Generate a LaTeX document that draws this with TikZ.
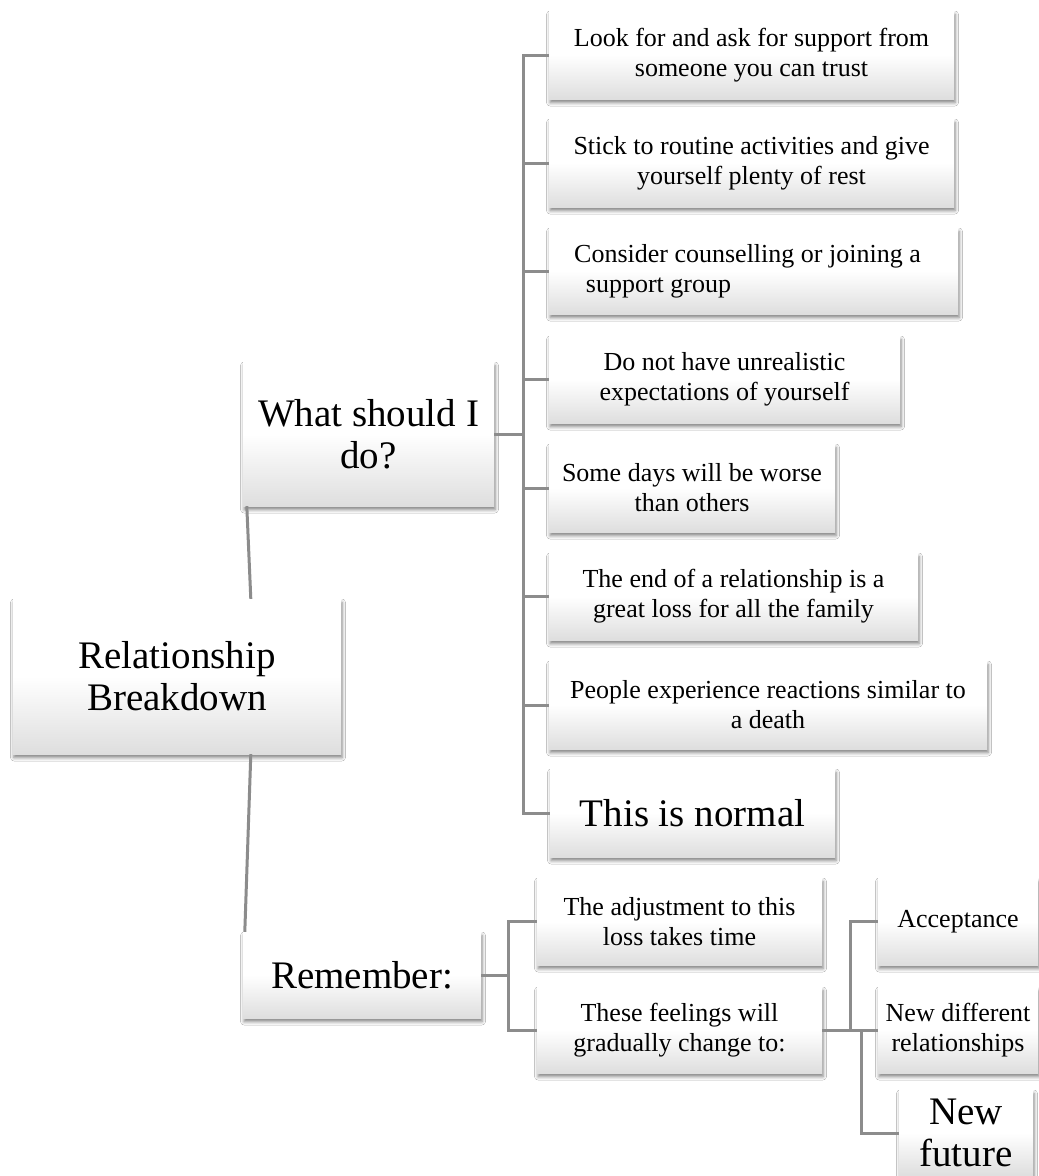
\documentclass[tikz,border=0pt]{standalone}
\usepackage{fontspec}
\setmainfont{Liberation Serif}
\usetikzlibrary{shadows.blur,calc}
\tikzset{
  box/.style={shape=rectangle, top color=white, bottom color=black!13, middle color=white,
    inner sep=0pt, align=center, text=black,
    blur shadow={shadow xshift=1pt, shadow yshift=-3.5pt, shadow blur radius=3.5pt, shadow opacity=50},
    font=\fontsize{26}{30}\selectfont},
  bigbox/.style={box, font=\fontsize{39}{42}\selectfont},
  conn/.style={draw=black!45, line width=3pt}
}
\begin{document}
\begin{tikzpicture}[x=1pt,y=-1pt]
\useasboundingbox (0,0) rectangle (1039,1176);
\clip (0,0) rectangle (1039,1176);
\fill[white] (0,0) rectangle (1039,1176);
% main nodes
\node[bigbox, minimum width=328, minimum height=155] (root) at (177,676.5) {Relationship\\Breakdown};
\node[bigbox, minimum width=251, minimum height=144] (what) at (368.5,434) {What should I\\do?};
\node[bigbox, minimum width=238, minimum height=86] (rem) at (362,975) {Remember:};
% leaves of "What should I do?"
\node[box, minimum width=405, minimum height=88] (l1) at (751.5,55) {Look for and ask for support from\\someone you can trust};
\node[box, minimum width=405, minimum height=88] (l2) at (751.5,163) {Stick to routine activities and give\\yourself plenty of rest};
\node[box, minimum width=409, minimum height=86] (l3) at (753.5,271) {\hspace*{-12pt}Consider counselling or joining a\\support group\hspace*{190pt}};
\node[box, minimum width=351, minimum height=87] (l4) at (724.5,379.5) {Do not have unrealistic\\expectations of yourself};
\node[box, minimum width=286, minimum height=88] (l5) at (692,488) {Some days will be worse\\than others};
\node[box, minimum width=369, minimum height=87] (l6) at (733.5,596.5) {The end of a relationship is a\\great loss for all the family};
\node[box, minimum width=438, minimum height=88] (l7) at (768,705) {People experience reactions similar to\\a death};
\node[bigbox, minimum width=285, minimum height=88] (l8) at (692.5,813) {This is normal};
% Remember branch
\node[box, minimum width=285, minimum height=87] (adj) at (679.5,921.5) {The adjustment to this\\loss takes time};
\node[box, minimum width=285, minimum height=86] (feel) at (679.5,1030) {These feelings will\\gradually change to:};
\node[box, minimum width=160, minimum height=87] (acc) at (958,921.5) {Acceptance};
\node[box, minimum width=160, minimum height=86] (ndr) at (958,1030) {New different\\relationships};
\node[bigbox, minimum width=134, minimum height=86] (nf) at (966,1133) {New\\future};
% connectors
\draw[conn] ($(root.north west)+(238,0)$) -- ($(what.south west)+(4,0)$);
\draw[conn] ($(root.south west)+(238,0)$) -- ($(rem.north west)+(2,0)$);
\foreach \l in {l1,l2,l3,l4,l5,l6,l7,l8}
  \draw[conn] (what.east) -- ++(29,0) |- (\l.west);
\draw[conn] (rem.east) -- ++(27,0) |- (adj.west);
\draw[conn] (rem.east) -- ++(27,0) |- (feel.west);
\draw[conn] (feel.east) -- ++(28,0) |- (acc.west);
\draw[conn] (feel.east) -- (ndr.west);
\draw[conn] (feel.east) -- ++(39,0) |- (nf.west);
\end{tikzpicture}
\end{document}
